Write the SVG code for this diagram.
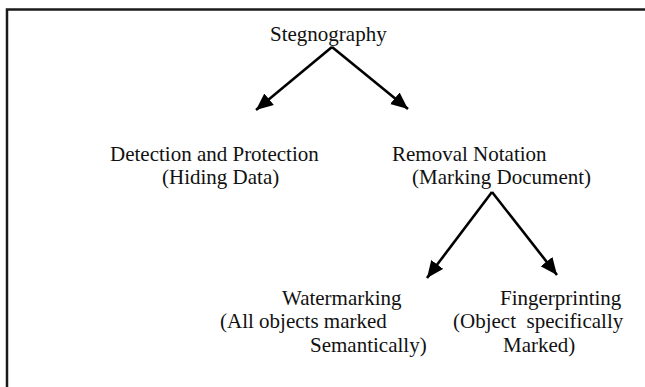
<svg xmlns="http://www.w3.org/2000/svg" width="645" height="387" viewBox="0 0 645 387">
  <style>
    text { font-family: "Liberation Serif", "Times New Roman", serif; font-size: 21px; fill: #111; white-space: pre; }
    .frame { fill: none; stroke: #1a1a1a; stroke-width: 2.5; }
    .conn line { stroke: #000; stroke-width: 2.6; marker-end: url(#head); }
  </style>
  <defs>
    <marker id="head" markerUnits="userSpaceOnUse" markerWidth="20" markerHeight="16" refX="17" refY="7.5" orient="auto">
      <path d="M0,0 L17,7.5 L0,15 Z" fill="#000"/>
    </marker>
  </defs>
  <rect width="645" height="387" fill="#fff"/>
  <!-- outer frame: only the top and left edges fall inside the page -->
  <path class="frame" d="M7,400 V9.5 H660"/>

  <g id="root">
    <text x="270" y="41">Stegnography</text>
  </g>
  <g id="detection">
    <text x="110" y="161">Detection and Protection</text>
    <text x="162" y="184">(Hiding Data)</text>
  </g>
  <g id="removal">
    <text x="392" y="161">Removal Notation</text>
    <text x="412" y="184">(Marking Document)</text>
  </g>
  <g id="watermarking">
    <text x="282" y="305">Watermarking</text>
    <text x="220" y="328">(All objects marked</text>
    <text x="310" y="352">Semantically)</text>
  </g>
  <g id="fingerprinting">
    <text x="500" y="305">Fingerprinting</text>
    <text x="453" y="328">(Object  specifically</text>
    <text x="503" y="352">Marked)</text>
  </g>

  <g class="conn">
    <line x1="332" y1="47" x2="256" y2="110"/>
    <line x1="332" y1="47" x2="408" y2="109"/>
    <line x1="492" y1="192" x2="427" y2="278"/>
    <line x1="492" y1="192" x2="557" y2="275"/>
  </g>
</svg>
